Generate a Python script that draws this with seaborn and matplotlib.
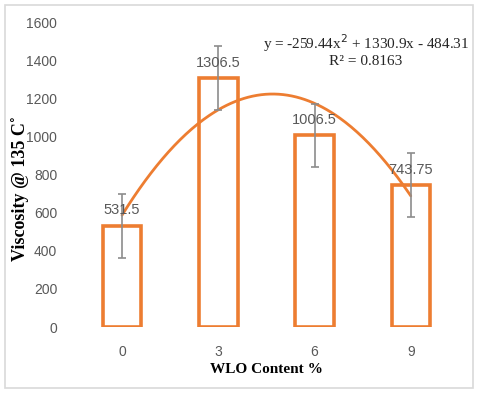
import numpy as np
import pandas as pd
import matplotlib
matplotlib.use("Agg")
import matplotlib.pyplot as plt
import seaborn as sns
from matplotlib.patches import Rectangle

# data
wlo_content = ["0", "3", "6", "9"]
viscosity = [531.5, 1306.5, 1006.5, 743.75]
error = [168, 168, 165, 168]
value_labels = ["531.5", "1306.5", "1006.5", "743.75"]

orange = "#ED7D31"
grey_text = "#595959"

df = pd.DataFrame({"wlo": wlo_content, "viscosity": viscosity})

sns.set_theme(style="white")
plt.rcParams["font.family"] = ["Liberation Sans", "DejaVu Sans"]

fig = plt.figure(figsize=(4.8, 3.94), dpi=100)
ax = fig.add_axes([0.154, 0.170, 0.802, 0.774])

sns.barplot(data=df, x="wlo", y="viscosity", fill=False, color=orange,
            width=0.4, linewidth=2.6, errorbar=None, ax=ax)
for p in ax.patches:
    p.set_edgecolor(orange)

xpos = np.arange(len(viscosity))
ax.errorbar(xpos, viscosity, yerr=error, fmt="none", ecolor="#8c8c8c",
            elinewidth=1.2, capsize=3, capthick=1.2, zorder=4)

# value labels
for x, v, lab in zip(xpos, viscosity, value_labels):
    ax.annotate(lab, (x, v), xytext=(0, 6), textcoords="offset points",
                ha="center", va="bottom", fontsize=10.5, color=grey_text, zorder=5)

# polynomial trendline (order 2), fitted like Excel on x = 1..n
coef = np.polyfit(xpos + 1, viscosity, 2)
xs = np.linspace(1, len(viscosity), 200)
ax.plot(xs - 1, np.polyval(coef, xs), color=orange, lw=2, zorder=3)

serif = ["Liberation Serif", "DejaVu Serif"]
ax.text(0.758, 0.931, "y = -259.44x$^2$ + 1330.9x - 484.31", transform=ax.transAxes,
        ha="center", va="center", fontsize=11, family=serif, color="#262626")
ax.text(0.758, 0.872, "R² = 0.8163", transform=ax.transAxes,
        ha="center", va="center", fontsize=11, family=serif, color="#262626")

ax.set_ylim(0, 1600)
ax.set_xlim(-0.5, 3.5)
ax.set_yticks(range(0, 1601, 200))
ax.tick_params(axis="both", colors=grey_text, labelsize=10, length=0)
ax.tick_params(axis="y", pad=12)
ax.tick_params(axis="x", pad=13)
for s in ax.spines.values():
    s.set_visible(False)

ax.set_xlabel("WLO Content %", family=serif, fontweight="bold", fontsize=11,
              color="black", labelpad=3)
ax.set_ylabel("Viscosity @ 135 C˚", family=serif, fontweight="bold", fontsize=13,
              color="black", labelpad=2)
ax.yaxis.set_label_coords(-0.117, 0.455)

fig.patches.append(Rectangle((5 / 480, 6 / 394), 468 / 480, 383 / 394,
                             transform=fig.transFigure, fill=False,
                             edgecolor="#d9d9d9", lw=1.2))

fig.savefig("out.png", dpi=100)
